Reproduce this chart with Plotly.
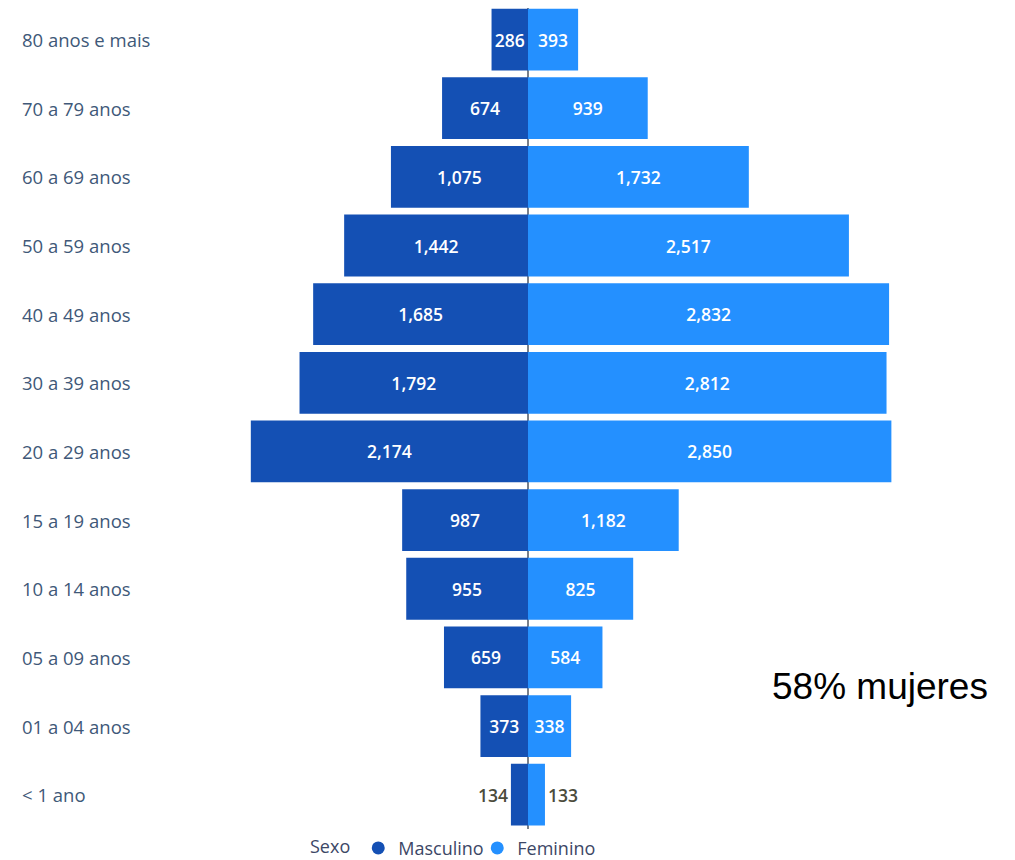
import plotly.graph_objects as go

categories = ["< 1 ano", "01 a 04 anos", "05 a 09 anos", "10 a 14 anos", "15 a 19 anos",
              "20 a 29 anos", "30 a 39 anos", "40 a 49 anos", "50 a 59 anos",
              "60 a 69 anos", "70 a 79 anos", "80 anos e mais"]
masculino = [134, 373, 659, 955, 987, 2174, 1792, 1685, 1442, 1075, 674, 286]
feminino = [133, 338, 584, 825, 1182, 2850, 2812, 2832, 2517, 1732, 939, 393]

MALE = "#1450B4"
FEMALE = "#2490FF"
FONT = "Open Sans"
W, H = 1007, 852
PLOT_H = 820.8

def fmt(v):
    return f"{v:,}"

def positions(vals):
    return ["outside" if v < 200 else "inside" for v in vals]

fig = go.Figure()
for name, vals, sign, color in [("Masculino", masculino, -1, MALE),
                                ("Feminino", feminino, 1, FEMALE)]:
    fig.add_trace(go.Bar(
        y=categories, x=[sign * v for v in vals], orientation="h", name=name,
        marker=dict(color=color, line=dict(width=0)),
        text=[fmt(v) for v in vals], textposition=positions(vals),
        insidetextanchor="middle", constraintext="none",
        insidetextfont=dict(color="white", size=17.5, family=FONT, weight=600),
        outsidetextfont=dict(color="#4b4b3c", size=17.5, family=FONT, weight=600),
        hoverinfo="skip", showlegend=False,
    ))
    fig.add_trace(go.Scatter(
        x=[None], y=[None], mode="markers", name=name,
        marker=dict(color=color, size=13, symbol="circle"), showlegend=True,
        hoverinfo="skip",
    ))

for c in categories:
    fig.add_annotation(x=12 / W, xref="paper", y=c, yref="y", text=c,
                       showarrow=False, xanchor="left", yanchor="middle",
                       font=dict(family=FONT, size=18.5, color="#405878"))

fig.add_annotation(x=872 / W, xref="paper", y=(PLOT_H - 678) / PLOT_H, yref="paper",
                   text="58% mujeres", showarrow=False, xanchor="center", yanchor="middle",
                   font=dict(family="Liberation Sans, Arial", size=37, color="black"))

fig.update_layout(
    width=W, height=H,
    margin=dict(l=0, r=0, t=0, b=H - PLOT_H, autoexpand=False),
    barmode="relative", bargap=0.1,
    plot_bgcolor="white", paper_bgcolor="white",
    xaxis=dict(range=[-520 / 0.1275, (W - 520) / 0.1275], showgrid=False, showticklabels=False,
               zeroline=True, zerolinecolor="#7a808a", zerolinewidth=1.5,
               layer="above traces", fixedrange=True),
    yaxis=dict(categoryorder="array", categoryarray=categories, showticklabels=False,
               range=[-0.5, 11.46], showgrid=False, zeroline=False, fixedrange=True),
    legend=dict(orientation="h", x=300 / W, xanchor="left",
                y=(PLOT_H - 840) / PLOT_H, yanchor="middle",
                title=dict(text="Sexo", font=dict(family=FONT, size=18, color="#3c4766")),
                font=dict(family=FONT, size=18, color="#3c4766"),
                itemwidth=30, entrywidth=74, traceorder="normal"),
    showlegend=True,
)

fig.write_html("out.html")
